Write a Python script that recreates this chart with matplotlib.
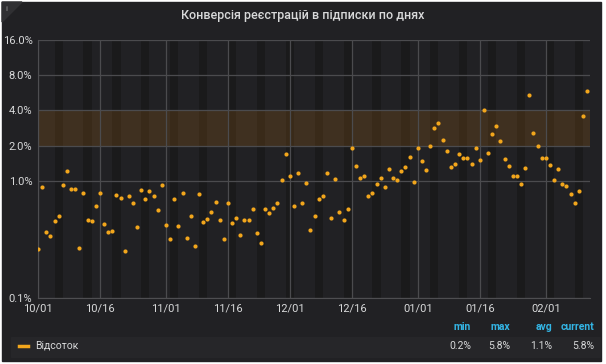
import matplotlib
matplotlib.use('Agg')
import matplotlib.pyplot as plt
import matplotlib.dates as mdates
from matplotlib.ticker import NullLocator, FixedLocator
from matplotlib.patches import Rectangle, Polygon
import pandas as pd

# daily conversion, %, starting 2019-10-01
start_date = '2019-10-01'
values = [
    0.261, 0.889, 0.369, 0.340, 0.456, 0.500, 0.919, 1.217, 0.855, 0.860,
    0.265, 0.795, 0.462, 0.453, 0.612, 0.795, 0.427, 0.369, 0.375, 0.760,
    0.716, 0.250, 0.749, 0.653, 0.408, 0.838, 0.702, 0.817, 0.745, 0.562,
    0.919, 0.424, 0.322, 0.698, 0.413, 0.786, 0.326, 0.506, 0.278, 0.779,
    0.444, 0.474, 0.544, 0.666, 0.462, 0.318, 0.653, 0.436, 0.484, 0.348,
    0.462, 0.465, 0.580, 0.362, 0.294, 0.580, 0.537, 0.589, 0.649, 1.026,
    1.709, 1.097, 0.608, 1.170, 0.649, 0.961, 0.382, 0.500, 0.706, 0.749,
    1.177, 0.481, 1.040, 0.547, 0.462, 0.580, 1.900, 1.342, 1.054, 1.110,
    0.749, 0.790, 0.943, 1.061, 0.884, 1.266, 1.061, 1.020, 1.224, 1.304,
    1.602, 0.975, 1.900, 1.472, 1.248, 1.976, 2.814, 3.123, 2.224, 1.813,
    1.324, 1.388, 1.699, 1.571, 1.571, 1.404, 1.923, 1.519, 4.008, 1.743,
    2.531, 2.962, 2.206, 1.531, 1.350, 1.097, 1.110, 0.943, 1.291, 5.413,
    2.582, 1.989, 1.580, 1.580, 1.377, 1.014, 1.258, 0.943, 0.912, 0.775,
    0.645, 0.826, 3.562, 5.820,
]
tick_dates = ['2019-10-01', '2019-10-16', '2019-11-01', '2019-11-16', '2019-12-01',
              '2019-12-16', '2020-01-01', '2020-01-16', '2020-02-01']
y_ticks = [16, 8, 4, 2, 1, 0.1]
y_labels = ['16.0%', '8.0%', '4.0%', '2.0%', '1.0%', '0.1%']
band = [2, 4]
title = 'Конверсія реєстрацій в підписки по днях'
series_name = 'Відсоток'
legend_cols = ['min', 'max', 'avg', 'current']
legend_vals = ['0.2%', '5.8%', '1.1%', '5.8%']

W, H = 606, 364
def fx(px):
    return px / W
def fy(py):
    return 1 - py / H

txt = '#d8d9da'
orange = '#F2A61C'
plt.rcParams['font.family'] = ['Roboto', 'DejaVu Sans']

fig = plt.figure(figsize=(W / 100, H / 100), dpi=100, facecolor='white')
fig.patches.append(Rectangle((fx(2), fy(361)), fx(601) - fx(2), fy(2) - fy(361),
                             transform=fig.transFigure, color='#212124', zorder=-10))
fig.patches.append(Polygon([(fx(2), fy(2)), (fx(22), fy(2)), (fx(2), fy(22))],
                           transform=fig.transFigure, color='#303033', zorder=-9))
fig.text(fx(6), fy(9), 'i', color='#9a9a9a', fontsize=6, ha='center', va='center')

ax = fig.add_axes([fx(38), fy(298), fx(590) - fx(38), fy(40) - fy(298)])
ax.set_facecolor('#212124')

dates = pd.date_range(start_date, periods=len(values), freq='D')

# weekends darker
for d in dates:
    if d.weekday() == 5:
        ax.axvspan(d, d + pd.Timedelta(days=2), color='#1a1a1b', lw=0, zorder=0.6)

ax.axhspan(band[0], band[1], color='#eb8a0e', alpha=0.15, lw=0, zorder=1)
ax.scatter(dates, values, s=9, color=orange, linewidths=0, zorder=3)

ax.set_yscale('log')
ax.set_ylim(0.1, 16)
ax.yaxis.set_major_locator(FixedLocator(y_ticks))
ax.set_yticklabels(y_labels)
ax.yaxis.set_minor_locator(NullLocator())

ax.set_xlim(dates[0], dates[0] + pd.Timedelta(days=133.7))
ax.set_xticks(pd.to_datetime(tick_dates))
ax.xaxis.set_major_formatter(mdates.DateFormatter('%m/%d'))
ax.xaxis.set_minor_locator(NullLocator())

ax.set_axisbelow('line')
ax.grid(color='#4b4b4e', lw=0.9)
ax.tick_params(length=0, labelsize=8, labelcolor=txt, pad=4)
for s in ['top', 'right']:
    ax.spines[s].set_visible(False)
for s in ['left', 'bottom']:
    ax.spines[s].set_color('#4e4e51')

fig.text(0.5, fy(16), title, ha='center', va='center', fontsize=9,
         color=txt, weight='medium')

# legend table
fig.patches.append(Rectangle((fx(11), fy(357)), fx(600) - fx(11), fy(337) - fy(357),
                             transform=fig.transFigure, color='#262629', zorder=-8))
col_x = [471, 510, 552, 594]
for x, c, v in zip(col_x, legend_cols, legend_vals):
    fig.text(fx(x), fy(327), c, ha='right', va='center', fontsize=7.5,
             color='#33b5e5', weight='bold')
    fig.text(fx(x), fy(346), v, ha='right', va='center', fontsize=7.5, color=txt)
fig.lines.append(plt.Line2D([fx(19), fx(28)], [fy(346), fy(346)], transform=fig.transFigure,
                            color=orange, lw=2.5))
fig.text(fx(35), fy(346), series_name, ha='left', va='center', fontsize=7.5, color=txt)

fig.savefig('out.png', dpi=100, facecolor='white')
